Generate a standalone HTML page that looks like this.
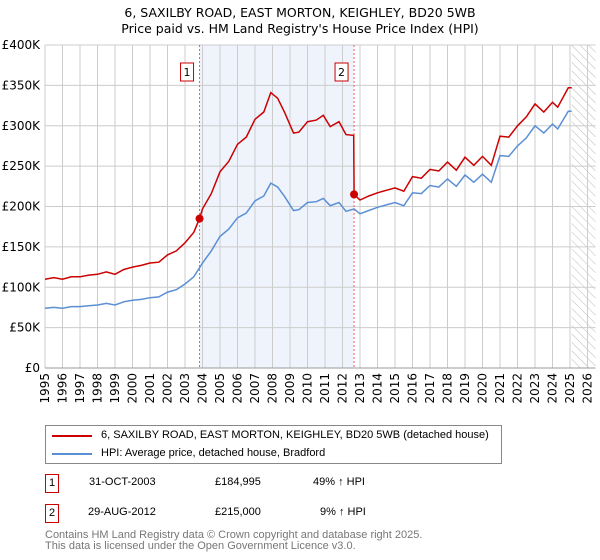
<!DOCTYPE html>
<html><head><meta charset="utf-8"><style>
body{margin:0;background:#fff;font-family:"Liberation Sans","DejaVu Sans",sans-serif;}
#wrap{position:relative;width:600px;height:560px;overflow:hidden}
#wrap div{white-space:nowrap}
</style></head><body>
<div id="wrap">
<svg id="chart" width="600" height="560" style="position:absolute;left:0;top:0;font-family:'DejaVu Sans','Liberation Sans',sans-serif">
<text x="300" y="17" text-anchor="middle" font-size="12.5">6, SAXILBY ROAD, EAST MORTON, KEIGHLEY, BD20 5WB</text>
<text x="300" y="33" text-anchor="middle" font-size="12.5">Price paid vs. HM Land Registry's House Price Index (HPI)</text>
<defs><pattern id="hatch" width="6" height="6" patternUnits="userSpaceOnUse" patternTransform="rotate(-45)"><line x1="0" y1="0" x2="0" y2="6" stroke="#bbb" stroke-width="1"/></pattern></defs>
<g id="grid"></g><g id="marks"></g><g id="axes"></g>
</svg>
<div style="position:absolute;left:45px;top:425px;width:455px;height:37px;border:1px solid #888;font-size:11px">
<div style="position:absolute;left:6px;top:9px;width:40px;height:2px;background:#cc0000"></div>
<div style="position:absolute;left:55px;top:3px">6, SAXILBY ROAD, EAST MORTON, KEIGHLEY, BD20 5WB (detached house)</div>
<div style="position:absolute;left:6px;top:27px;width:40px;height:2px;background:#5b8fd4"></div>
<div style="position:absolute;left:55px;top:21px">HPI: Average price, detached house, Bradford</div>
</div>
<div style="font-size:11px">
<div style="position:absolute;left:45px;top:474px;width:12px;height:17px;border:1px solid #cc0000;text-align:center;line-height:17px">1</div>
<div style="position:absolute;left:89px;top:476px">31-OCT-2003</div>
<div style="position:absolute;left:215px;top:476px">£184,995</div>
<div style="position:absolute;left:313px;top:476px">49% ↑ HPI</div>
<div style="position:absolute;left:45px;top:504px;width:12px;height:17px;border:1px solid #cc0000;text-align:center;line-height:17px">2</div>
<div style="position:absolute;left:88px;top:506px">29-AUG-2012</div>
<div style="position:absolute;left:215px;top:506px">£215,000</div>
<div style="position:absolute;left:320px;top:506px">9% ↑ HPI</div>
</div>
<div style="position:absolute;left:45px;top:530px;font-size:11px;color:#777;line-height:11px">Contains HM Land Registry data © Crown copyright and database right 2025.<br>This data is licensed under the Open Government Licence v3.0.</div>
</div>
<script>
const hpiYears=[1995,1995.5,1996,1996.5,1997,1997.5,1998,1998.5,1999,1999.5,2000,2000.5,2001,2001.5,2002,2002.5,2003,2003.5,2003.83,2004,2004.5,2005,2005.5,2006,2006.5,2007,2007.5,2007.9,2008.3,2008.7,2009.2,2009.5,2010,2010.5,2010.9,2011.3,2011.8,2012.2,2012.66,2013,2013.5,2014,2014.5,2015,2015.5,2016,2016.5,2017,2017.5,2018,2018.5,2019,2019.5,2020,2020.5,2021,2021.5,2022,2022.5,2023,2023.5,2024,2024.3,2024.9,2025.1];
const hpiValues=[74,75,74,76,76,77,78,80,78,82,84,85,87,88,94,97,104,113,124,130,145,163,172,186,192,207,213,229,224,212,195,196,205,206,210,201,205,194,197,191,195,199,202,205,201,217,216,226,224,234,225,239,230,240,230,263,262,275,285,300,291,302,296,318,318];
const priceYears=[1995,1995.5,1996,1996.5,1997,1997.5,1998,1998.5,1999,1999.5,2000,2000.5,2001,2001.5,2002,2002.5,2003,2003.5,2003.83,2004,2004.5,2005,2005.5,2006,2006.5,2007,2007.5,2007.9,2008.3,2008.7,2009.2,2009.5,2010,2010.5,2010.9,2011.3,2011.8,2012.2,2012.64,2012.66,2013,2013.5,2014,2014.5,2015,2015.5,2016,2016.5,2017,2017.5,2018,2018.5,2019,2019.5,2020,2020.5,2021,2021.5,2022,2022.5,2023,2023.5,2024,2024.3,2024.9,2025.1];
const priceValues=[110,112,110,113,113,115,116,119,116,122,125,127,130,131,140,145,155,168,185,197,216,243,256,277,286,308,317,341,334,316,291,292,305,307,313,299,305,289,288,215,208,213,217,220,223,219,237,235,246,244,255,245,261,251,262,251,287,286,300,311,327,317,329,323,347,347];
const saleYears=[2003.83,2012.66];
const saleValues=[184.995,215];
const saleLabels=["1","2"];
const yTicks=[0,50,100,150,200,250,300,350,400];
const yTickLabels=["£0","£50K","£100K","£150K","£200K","£250K","£300K","£350K","£400K"];
const xTicks=[1995,1996,1997,1998,1999,2000,2001,2002,2003,2004,2005,2006,2007,2008,2009,2010,2011,2012,2013,2014,2015,2016,2017,2018,2019,2020,2021,2022,2023,2024,2025,2026];

const NS="http://www.w3.org/2000/svg";
const X0=45,X1=587.5,Y0=368,Y1=45;
const xs=y=>X0+(y-1995)/(2026-1995)*(X1-X0);
const ys=v=>Y0-v/400*(Y0-Y1);
function mk(parent,tag,attrs){const e=document.createElementNS(NS,tag);for(const k in attrs)e.setAttribute(k,attrs[k]);parent.appendChild(e);return e;}
const grid=document.getElementById('grid'),marks=document.getElementById('marks'),axes=document.getElementById('axes');
let r=mk(grid,'rect',{x:xs(saleYears[0]),y:Y1,width:xs(saleYears[1])-xs(saleYears[0]),height:Y0-Y1,fill:'#eef3fc'});


let h=mk(grid,'rect',{x:xs(2025.1),y:Y1,width:X1+8-xs(2025.1),height:Y0-Y1,fill:'url(#hatch)'});


yTicks.forEach((v,i)=>{
  let l=mk(grid,'line',{x1:X0,x2:X1+8,y1:ys(v),y2:ys(v),stroke:'#ccc'});
  
  
  let t=mk(axes,'text',{x:X0-5,y:ys(v)+4,'text-anchor':'end','font-size':'12'});
  t.textContent=yTickLabels[i];
  
  
});
xTicks.forEach(v=>{
  let l=mk(grid,'line',{x1:xs(v),x2:xs(v),y1:Y1,y2:Y0,stroke:'#ccc'});
  
  
  let t=mk(axes,'text',{transform:`translate(${xs(v)+4},${Y0+5}) rotate(-90)`,'text-anchor':'end','font-size':'12'});
  t.textContent=v;
  
  
});
let bl=mk(axes,'line',{x1:X0,x2:X1+8,y1:Y0,y2:Y0,stroke:'#999'});


saleYears.forEach((yr,i)=>{
  let l=mk(marks,'line',{x1:xs(yr),x2:xs(yr),y1:Y1,y2:Y0,stroke:'#f06060','stroke-dasharray':'2,2'});
  
  
  let b=mk(marks,'rect',{x:xs(yr)-19,y:63,width:13,height:18,fill:'#fff',stroke:'#cc0000'});
  
  
  let t=mk(marks,'text',{x:xs(yr)-12.5,y:76,'text-anchor':'middle','font-size':'11'});
  t.textContent=saleLabels[i];
  
  
});
const pts=(a,b)=>a.map((y,i)=>xs(y).toFixed(1)+','+ys(b[i]).toFixed(1)).join(' ');
let hp=mk(marks,'polyline',{points:pts(hpiYears,hpiValues),fill:'none',stroke:'#5b8fd4','stroke-width':1.5});


let pp=mk(marks,'polyline',{points:pts(priceYears,priceValues),fill:'none',stroke:'#cc0000','stroke-width':1.5});


saleYears.forEach((yr,i)=>{
  let c=mk(marks,'circle',{cx:xs(yr),cy:ys(saleValues[i]),r:4,fill:'#cc0000'});
  
  
});
</script>
</body></html>
